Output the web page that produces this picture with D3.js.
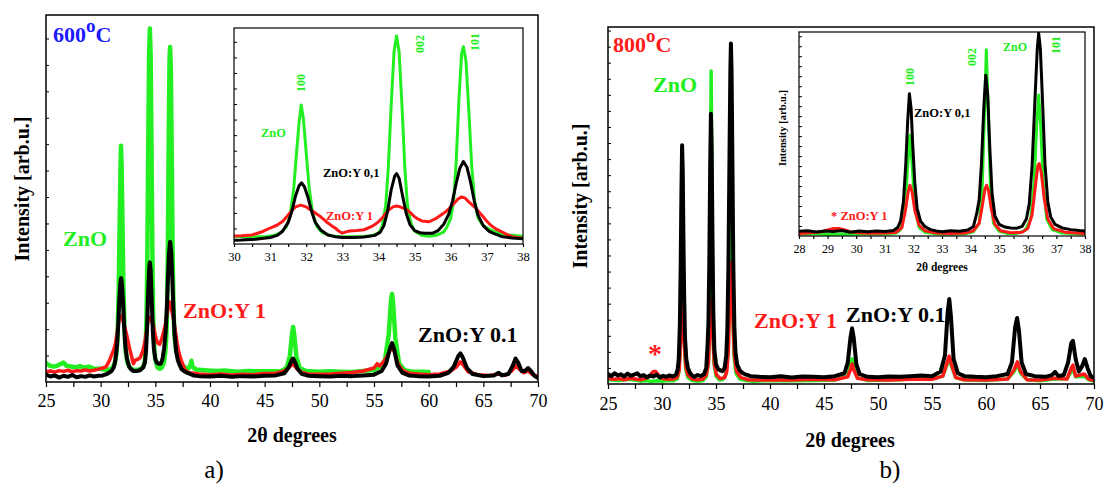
<!DOCTYPE html>
<html><head><meta charset="utf-8">
<script src="https://cdn.jsdelivr.net/npm/d3@7"></script>
<style>body{margin:0;background:#fff}svg{display:block}</style>
</head><body>
<svg id="c" width="1105" height="488"></svg>
<script>
// ---------- DATA (2θ in degrees, intensity in arbitrary units) ----------
const xTicksMain = [25,30,35,40,45,50,55,60,65,70];
const xTicksInsetA = [30,31,32,33,34,35,36,37,38];
const xTicksInsetB = [28,29,30,31,32,33,34,35,36,37,38];

// Panel a) 600 °C
const a_ZnO = [[25,52],[25.3,45],[25.7,42],[26.0,44],[26.4,50],[26.6,53],[26.9,44],[27.3,42],[27.7,40],[28.1,43],[28.5,39],[28.9,42],[29.3,37],[29.7,36],[30.0,36],[30.3,34],[30.6,33],[30.9,35],[31.1,40],[31.3,52],[31.45,80],[31.55,130],[31.65,250],[31.72,400],[31.8,560],[31.86,644],[31.92,580],[32.0,420],[32.08,260],[32.18,140],[32.3,80],[32.45,52],[32.65,40],[32.9,34],[33.2,33],[33.5,34],[33.8,38],[34.0,50],[34.1,80],[34.2,180],[34.27,350],[34.35,640],[34.43,890],[34.5,963],[34.57,890],[34.65,640],[34.73,350],[34.8,180],[34.9,95],[35.0,60],[35.2,40],[35.4,36],[35.6,40],[35.8,55],[35.9,80],[36.0,120],[36.08,200],[36.15,380],[36.23,680],[36.3,880],[36.35,913],[36.42,850],[36.5,620],[36.58,360],[36.66,200],[36.76,120],[36.9,85],[37.1,65],[37.3,52],[37.6,42],[38.0,36],[38.2,45],[38.3,58],[38.4,42],[38.7,34],[39.5,32],[40.5,30],[41.5,31],[42.5,28],[43.5,30],[44.5,29],[45.5,29],[46.5,30],[47.0,38],[47.3,70],[47.5,130],[47.6,150],[47.7,130],[47.9,70],[48.2,38],[48.8,30],[50,28],[51,29],[52,28],[53,27],[54,30],[55,33],[55.6,42],[56.0,60],[56.35,130],[56.55,220],[56.65,240],[56.75,215],[56.95,120],[57.3,50],[57.8,32],[58.5,28],[59.5,28],[60.0,27]];
const a_Y1 = [[25,28],[25.4,30],[25.8,27],[26.2,31],[26.6,29],[27.0,32],[27.4,28],[27.8,31],[28.2,30],[28.6,33],[29.0,30],[29.4,32],[29.8,35],[30.2,38],[30.5,42],[30.8,58],[31.0,74],[31.2,88],[31.35,105],[31.5,134],[31.6,155],[31.7,172],[31.85,180],[32.0,172],[32.1,160],[32.2,150],[32.3,138],[32.4,126],[32.5,112],[32.6,97],[32.7,85],[32.8,74],[32.9,60],[33.0,50],[33.1,56],[33.2,60],[33.4,62],[33.6,66],[33.8,80],[33.9,90],[34.0,103],[34.1,120],[34.2,142],[34.3,160],[34.4,172],[34.5,176],[34.6,172],[34.7,165],[34.8,157],[34.9,142],[35.0,126],[35.1,115],[35.2,107],[35.4,103],[35.6,119],[35.8,142],[35.9,155],[36.0,172],[36.1,190],[36.2,208],[36.3,218],[36.4,212],[36.5,195],[36.6,180],[36.7,165],[36.8,145],[36.9,126],[37.0,105],[37.1,88],[37.25,70],[37.4,57],[37.55,45],[37.7,34],[38.0,26],[38.5,24],[39,22],[40,20],[41,22],[42,19],[43,21],[44,20],[45,23],[46,24],[46.8,30],[47.3,42],[47.6,48],[47.9,38],[48.4,26],[49,22],[50,21],[51,22],[52,24],[53,26],[54,30],[55,38],[55.3,50],[55.5,44],[55.8,52],[56.2,70],[56.5,88],[56.7,92],[56.9,80],[57.2,50],[57.6,32],[58.2,24],[59,22],[60,20],[61,22],[62,30],[62.5,40],[62.9,55],[63.2,45],[63.6,28],[64.5,20],[65.5,18],[66.4,22],[67,18],[67.6,30],[68.0,45],[68.3,35],[68.7,25],[69.1,30],[69.5,20],[70,16]];
const a_Y01 = [[25,20],[25.4,15],[25.8,18],[26.2,12],[26.6,17],[27.0,14],[27.4,19],[27.8,13],[28.2,16],[28.6,14],[29.0,18],[29.4,15],[29.8,17],[30.2,18],[30.6,22],[31.0,30],[31.2,40],[31.35,60],[31.5,100],[31.6,150],[31.7,220],[31.8,270],[31.87,283],[31.95,265],[32.05,215],[32.15,150],[32.25,100],[32.4,65],[32.6,42],[32.8,34],[33.0,30],[33.3,30],[33.6,32],[33.9,40],[34.05,55],[34.15,85],[34.25,150],[34.35,250],[34.45,315],[34.5,326],[34.57,305],[34.67,220],[34.77,140],[34.87,90],[35.0,62],[35.15,52],[35.3,50],[35.5,50],[35.65,62],[35.8,90],[35.95,140],[36.05,200],[36.15,280],[36.25,350],[36.35,382],[36.45,355],[36.55,285],[36.65,200],[36.75,135],[36.9,85],[37.05,60],[37.2,48],[37.4,35],[37.7,28],[38.0,24],[38.5,18],[39,16],[40,15],[41,17],[42,14],[43,16],[44,15],[45,17],[46,18],[46.8,24],[47.2,40],[47.45,58],[47.6,64],[47.75,56],[48.0,36],[48.4,22],[49,17],[50,16],[51,15],[52,17],[53,16],[54,18],[55,20],[55.7,30],[56.1,50],[56.45,90],[56.65,106],[56.85,88],[57.15,45],[57.6,25],[58.2,18],[59,16],[60,15],[61,17],[61.8,25],[62.3,42],[62.7,70],[62.9,78],[63.1,68],[63.5,38],[64,22],[65,16],[66,18],[66.4,25],[66.7,18],[67.3,22],[67.7,45],[67.95,64],[68.2,52],[68.5,30],[68.8,30],[69.1,38],[69.35,30],[69.7,16],[70,11]];

// Panel b) 800 °C
const b_ZnO = [[25,12],[26,10],[27,13],[28,8],[28.5,10],[29,7],[29.5,9],[30,8],[30.5,10],[31,9],[31.4,14],[31.55,30],[31.7,120],[31.8,330],[31.88,474],[31.96,330],[32.05,130],[32.2,40],[32.4,18],[32.8,10],[33.3,8],[33.8,10],[34.1,20],[34.3,60],[34.4,200],[34.48,560],[34.55,877],[34.62,560],[34.7,200],[34.8,60],[35.0,22],[35.3,12],[35.6,12],[35.9,25],[36.1,80],[36.22,250],[36.31,520],[36.38,663],[36.45,520],[36.54,250],[36.66,80],[36.85,30],[37.2,14],[37.7,10],[38.5,8],[40,10],[42,9],[44,10],[46,11],[47.2,22],[47.45,55],[47.6,70],[47.75,55],[48.1,18],[49,10],[51,11],[52,12],[53,15],[54,18],[55,14],[56,22],[56.4,55],[56.6,75],[56.8,50],[57.2,18],[58,11],[60,10],[62,14],[62.6,35],[62.9,55],[63.2,30],[63.8,12],[65,9],[66.4,14],[67.5,15],[67.9,35],[68.05,42],[68.3,20],[69.1,22],[69.5,12],[70,8]];
const b_Y1 = [[25,16],[25.5,13],[26,15],[26.5,12],[27,16],[27.5,14],[28,12],[28.4,15],[28.8,20],[29.0,28],[29.2,35],[29.4,35],[29.6,28],[29.8,20],[30.1,15],[30.5,13],[31,14],[31.4,18],[31.6,40],[31.72,120],[31.82,210],[31.88,239],[31.95,210],[32.05,120],[32.2,50],[32.4,25],[32.8,14],[33.3,12],[33.8,14],[34.1,25],[34.3,60],[34.42,150],[34.5,220],[34.56,239],[34.63,210],[34.72,130],[34.85,55],[35.05,25],[35.4,15],[35.8,18],[36.0,35],[36.15,100],[36.27,240],[36.35,330],[36.4,341],[36.47,300],[36.57,180],[36.7,80],[36.9,35],[37.3,18],[38,12],[39,11],[40,12],[42,11],[44,13],[46,12],[47.2,20],[47.45,40],[47.6,56],[47.75,40],[48.1,16],[49,12],[51,11],[53,13],[55,13],[56,22],[56.4,60],[56.6,78],[56.8,55],[57.2,18],[58,12],[60,11],[62,14],[62.6,40],[62.9,62],[63.2,35],[63.8,12],[65,11],[66.4,16],[67.5,14],[67.9,45],[68.05,53],[68.3,22],[69.1,28],[69.5,14],[70,10]];
const b_Y01 = [[25,28],[25.3,22],[25.6,30],[25.9,24],[26.2,27],[26.5,21],[26.8,29],[27.1,23],[27.4,26],[27.7,30],[28.0,22],[28.3,25],[28.6,19],[28.9,24],[29.2,21],[29.5,26],[29.8,18],[30.1,23],[30.4,20],[30.7,24],[31.0,21],[31.3,26],[31.45,40],[31.55,70],[31.65,160],[31.73,330],[31.8,540],[31.86,669],[31.92,600],[31.98,420],[32.05,250],[32.13,130],[32.25,70],[32.4,45],[32.6,30],[32.8,24],[33.0,20],[33.3,25],[33.6,22],[33.9,28],[34.1,45],[34.22,110],[34.3,170],[34.38,340],[34.46,600],[34.53,757],[34.6,660],[34.67,420],[34.75,200],[34.85,95],[35.0,55],[35.2,42],[35.4,38],[35.6,36],[35.8,45],[35.95,80],[36.05,150],[36.15,330],[36.25,640],[36.33,880],[36.38,954],[36.44,880],[36.52,620],[36.6,340],[36.7,160],[36.8,90],[36.95,55],[37.2,38],[37.5,30],[37.8,26],[38.2,22],[39,20],[40,19],[41,22],[42,18],[43,21],[44,20],[45,19],[46,22],[46.9,30],[47.2,60],[47.45,130],[47.6,156],[47.75,130],[48.0,55],[48.3,28],[49,20],[50,19],[51,21],[52,20],[53,22],[54,24],[55,22],[55.8,35],[56.2,80],[56.45,200],[56.6,238],[56.75,190],[57.0,70],[57.4,30],[58,22],[59,20],[60,19],[61,22],[62,28],[62.4,60],[62.7,160],[62.88,185],[63.05,150],[63.3,60],[63.7,28],[64.5,22],[65.5,20],[66.1,25],[66.4,34],[66.7,22],[67.2,25],[67.6,60],[67.9,115],[68.05,121],[68.3,70],[68.6,35],[68.9,50],[69.15,70],[69.4,45],[69.7,22],[70,18]];

// ---------- DRAWING ----------
const GREEN = "#22ee22", RED = "#ff1a1a", BLACK = "#000", BLUE = "#1a1aff";
const FONT = "'Liberation Serif','Times New Roman',serif";
const svg = d3.select("#c");
let clipId = 0;

function plot(o) {
  const x = d3.scaleLinear().domain(o.xd).range([o.x0, o.x1]);
  const y = d3.scaleLinear().domain(o.yd).range([o.y1, o.y0]);
  const g = svg.append("g");
  g.append("rect").attr("x", o.x0).attr("y", o.y0).attr("width", o.x1 - o.x0).attr("height", o.y1 - o.y0).attr("fill", "#fff");
  const id = "clip" + (clipId++);
  g.append("clipPath").attr("id", id).append("rect")
    .attr("x", o.x0).attr("y", o.y0).attr("width", o.x1 - o.x0).attr("height", o.y1 - o.y0);
  const lg = g.append("g").attr("clip-path", `url(#${id})`);
  const line = d3.line().x(d => x(d[0])).y(d => y(d[1]));
  o.series.forEach(s => {
    lg.append("path").datum(s.data).attr("d", line).attr("fill", "none")
      .attr("stroke", s.color).attr("stroke-width", s.w).attr("stroke-linejoin", "round").attr("stroke-linecap", "round");
  });
  const ax = g.append("g").attr("transform", `translate(0,${o.y1})`)
    .call(d3.axisBottom(x).tickValues(o.xTicks).tickFormat(d3.format("d")).tickSize(o.tl).tickPadding(o.pad));
  ax.select(".domain").remove();
  ax.selectAll("line").attr("stroke-width", 1.2);
  ax.selectAll("text").attr("font-family", FONT).attr("font-size", o.fs).attr("fill", "#000");
  const minor = [];
  for (let i = 0; i < o.xTicks.length - 1; i++) minor.push((o.xTicks[i] + o.xTicks[i + 1]) / 2);
  const mx = g.append("g").attr("transform", `translate(0,${o.y1})`)
    .call(d3.axisBottom(x).tickValues(minor).tickFormat("").tickSize(o.tlm));
  mx.select(".domain").remove();
  mx.selectAll("line").attr("stroke-width", 1.2);
  const ay = g.append("g").attr("transform", `translate(${o.x0},0)`)
    .call(d3.axisRight(y).tickValues(d3.range(o.yStep, o.yd[1], o.yStep)).tickFormat("").tickSize(o.ytl));
  ay.select(".domain").remove();
  ay.selectAll("line").attr("stroke-width", 1);
  g.append("rect").attr("x", o.x0).attr("y", o.y0).attr("width", o.x1 - o.x0).attr("height", o.y1 - o.y0)
    .attr("fill", "none").attr("stroke", "#000").attr("stroke-width", o.fw);
  return {x, y, g};
}

function txt(t, x, y, size, color, opts = {}) {
  const e = svg.append("text").attr("x", x).attr("y", y).attr("font-family", FONT)
    .attr("font-size", size).attr("font-weight", opts.normal ? "normal" : "bold").attr("fill", color)
    .attr("text-anchor", opts.anchor || "start").text(t);
  if (opts.rot) e.attr("transform", `rotate(-90,${x},${y})`);
  return e;
}

// ---- Panel a main
plot({x0: 46, x1: 538, y0: 15, y1: 382, xd: [25, 70], yd: [0, 1000],
  series: [{data: a_ZnO, color: GREEN, w: 4.5}, {data: a_Y1, color: RED, w: 3.5}, {data: a_Y01, color: BLACK, w: 4}],
  xTicks: xTicksMain, tl: 5, tlm: 5, pad: 7, fs: 18, yStep: 72, ytl: 3, fw: 1.5});
// ---- Panel a inset
plot({x0: 234, x1: 523, y0: 28, y1: 244, xd: [30, 38], yd: [0, 1000],
  series: [{data: a_ZnO, color: GREEN, w: 3}, {data: a_Y1, color: RED, w: 3}, {data: a_Y01, color: BLACK, w: 3}],
  xTicks: xTicksInsetA, tl: 3, tlm: 3, pad: 5, fs: 12.5, yStep: 72, ytl: 3, fw: 1.2});

// ---- Panel b main
plot({x0: 608, x1: 1094, y0: 27, y1: 384, xd: [25, 70], yd: [0, 1000],
  series: [{data: b_ZnO, color: GREEN, w: 3.5}, {data: b_Y1, color: RED, w: 3.5}, {data: b_Y01, color: BLACK, w: 4}],
  xTicks: xTicksMain, tl: 5, tlm: 5, pad: 8, fs: 18, yStep: 45, ytl: 3, fw: 1.5});
// ---- Panel b inset
plot({x0: 799, x1: 1085, y0: 32, y1: 236, xd: [28, 38], yd: [0, 960],
  series: [{data: b_ZnO, color: GREEN, w: 3}, {data: b_Y1, color: RED, w: 3}, {data: b_Y01, color: BLACK, w: 3}],
  xTicks: xTicksInsetB, tl: 3, tlm: 3, pad: 5, fs: 12, yStep: 47, ytl: 3, fw: 1.2});

// ---- Texts panel a
const t600 = txt("", 53, 42, 22, BLUE);
t600.append("tspan").text("600");
t600.append("tspan").attr("font-size", 19).attr("dy", -10).text("o");
t600.append("tspan").attr("dy", 10).text("C");
txt("ZnO", 63, 246, 22, GREEN);
txt("ZnO:Y 1", 183, 318, 22, RED);
txt("ZnO:Y 0.1", 418, 342, 22, BLACK);
txt("ZnO", 261, 137, 12.5, GREEN);
txt("ZnO:Y 0,1", 323, 177, 12.5, BLACK);
txt("ZnO:Y 1", 326, 220, 12.5, RED);
txt("100", 305, 83, 12, GREEN, {rot: true, anchor: "middle"});
txt("002", 424, 44, 12, GREEN, {rot: true, anchor: "middle"});
txt("101", 479, 42, 12, GREEN, {rot: true, anchor: "middle"});
txt("2θ degrees", 292, 442, 20, BLACK, {anchor: "middle"});
txt("Intensity [arb.u.]", 29, 189, 20, BLACK, {rot: true, anchor: "middle"});
txt("a)", 214, 478, 25, BLACK, {anchor: "middle", normal: true});

// ---- Texts panel b
const t800 = txt("", 613, 52, 22, RED);
t800.append("tspan").text("800");
t800.append("tspan").attr("font-size", 19).attr("dy", -10).text("o");
t800.append("tspan").attr("dy", 10).text("C");
txt("ZnO", 653, 92, 22, GREEN);
txt("ZnO:Y 1", 754, 328, 22, RED);
txt("ZnO:Y 0.1", 846, 322, 22, BLACK);
txt("*", 655, 363, 28, RED, {anchor: "middle"});
txt("100", 914, 77, 12, GREEN, {rot: true, anchor: "middle"});
txt("002", 976, 57, 12, GREEN, {rot: true, anchor: "middle"});
txt("101", 1060, 45, 12, GREEN, {rot: true, anchor: "middle"});
txt("ZnO", 1003, 51, 12, GREEN);
txt("ZnO:Y 0,1", 914, 117, 12.5, BLACK);
txt("* ZnO:Y 1", 831, 220, 12.5, RED);
txt("Intensity [arb.u.]", 786, 128, 10.5, BLACK, {rot: true, anchor: "middle"});
txt("2θ degrees", 942, 271, 11.5, BLACK, {anchor: "middle"});
txt("2θ degrees", 850, 447, 20, BLACK, {anchor: "middle"});
txt("Intensity [arb.u.]", 587, 196, 20, BLACK, {rot: true, anchor: "middle"});
txt("b)", 890, 478, 25, BLACK, {anchor: "middle", normal: true});
</script>
</body></html>
